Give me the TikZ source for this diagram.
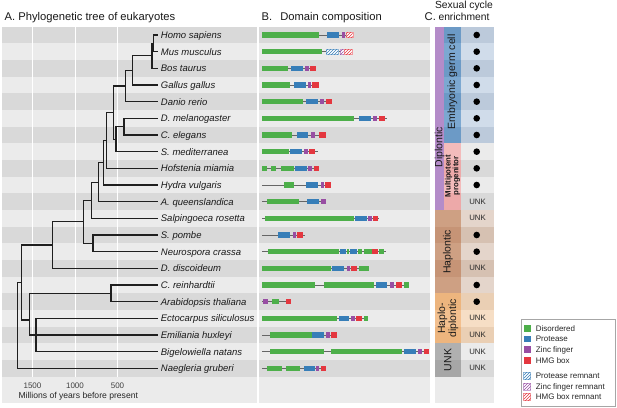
\documentclass[tikz,border=0pt]{standalone}
\usepackage{fontspec}
\setmainfont{Liberation Sans}
\usetikzlibrary{patterns}

\definecolor{bandD}{HTML}{D9D9D9}
\definecolor{bandL}{HTML}{EBEBEB}
\definecolor{cdis}{HTML}{4DAF4A}
\definecolor{cpro}{HTML}{377EB8}
\definecolor{cznf}{HTML}{984EA3}
\definecolor{chmg}{HTML}{E4373F}
\definecolor{cdip}{HTML}{B48CC9}
\definecolor{egcD}{HTML}{6C9AC6}
\definecolor{egcL}{HTML}{7CA8D1}
\definecolor{mppD}{HTML}{EDA9A9}
\definecolor{mppL}{HTML}{F3BBBB}
\definecolor{hapD}{HTML}{C69476}
\definecolor{hapL}{HTML}{CEA083}
\definecolor{hdD}{HTML}{EDB57E}
\definecolor{hdL}{HTML}{F3C08F}
\definecolor{unkD}{HTML}{A6A6A6}
\definecolor{unkL}{HTML}{B0B0B0}
\definecolor{egcdD}{HTML}{BCCADB}
\definecolor{egcdL}{HTML}{D0DCEA}
\definecolor{hapdD}{HTML}{D6C1B2}
\definecolor{hapdL}{HTML}{E4D5CB}
\definecolor{hddD}{HTML}{EACFB4}
\definecolor{hddL}{HTML}{F6DEC5}

\tikzset{
  dis/.style={fill=cdis},
  pro/.style={fill=cpro},
  znf/.style={fill=cznf},
  hmg/.style={fill=chmg},
  proR/.style={fill=white, draw=cpro!50, line width=0.3pt, postaction={pattern=north east lines, pattern color=cpro}},
  znfR/.style={fill=white, draw=cznf!50, line width=0.3pt, postaction={pattern=north east lines, pattern color=cznf}},
  hmgR/.style={fill=white, draw=chmg!50, line width=0.3pt, postaction={pattern=north east lines, pattern color=chmg}},
  backbone/.style={draw=black!60, line width=0.9pt},
  branch/.style={draw=black!88, line width=1.25pt},
  gridline/.style={draw=white, line width=0.9pt},
  species/.style={anchor=base west, inner sep=0pt, text=black!90, font=\fontsize{9.5}{11}\selectfont\itshape},
  title/.style={anchor=base west, inner sep=0pt, text=black!90, font=\fontsize{11.2}{13}\selectfont},
  tick/.style={anchor=base, inner sep=0pt, text=black!75, font=\fontsize{8}{9.6}\selectfont},
  strip/.style={rotate=90, inner sep=0pt, text=black!90, align=center, font=\fontsize{10.5}{11}\selectfont},
  mpp/.style={rotate=90, inner sep=0pt, text=black!90, align=center, font=\fontsize{7.8}{7.6}\selectfont\bfseries},
  dot/.style={circle, fill=black, inner sep=0pt, minimum size=6.6pt},
  unk/.style={inner sep=0pt, text=black!85, font=\fontsize{7.8}{9}\selectfont},
  legtext/.style={anchor=base west, inner sep=0pt, text=black!85, font=\fontsize{8}{9.6}\selectfont}
}

\newcommand{\cband}[6]{%
  \foreach \i in {#3,...,#4}{%
    \ifodd\i \def\bc{#6}\else \def\bc{#5}\fi
    \fill[fill=\bc] (#1,{26.67+\i*50/3}) rectangle (#2,{26.67+(\i+1)*50/3});
  }%
}

\newcommand{\protein}[3]{%
  \draw[backbone] (262.3,{35+#1*50/3}) -- (#2,{35+#1*50/3});
  \foreach \t/\a/\b in {#3}
    \fill[\t] (\a,{35+#1*50/3-2.6}) rectangle (\b,{35+#1*50/3+2.6});
}

\begin{document}
\begin{tikzpicture}[x=1pt,y=-1pt]
    \useasboundingbox (0,0) rectangle (617,407);
    \fill[white] (0,0) rectangle (617,407);

    \fill[bandL] (2,376.67) rectangle (256.5,403);
    \fill[bandL] (259,376.67) rectangle (430,403);
    \fill[bandL] (435,376.67) rectangle (494,403);
    \cband{2}{256.5}{0}{20}{bandD}{bandL}
    \cband{259}{430}{0}{20}{bandD}{bandL}
    \foreach \x in {32.5,75,117.5}
        \draw[gridline] (\x,26.67) -- (\x,376.67);

    \fill[cdip] (435,26.67) rectangle (444,210);
    \cband{444}{460.7}{0}{6}{egcD}{egcL}
    \cband{444}{460.7}{7}{10}{mppD}{mppL}
    \cband{435}{460.7}{11}{15}{hapD}{hapL}
    \cband{435}{460.7}{16}{18}{hdD}{hdL}
    \cband{435}{460.7}{19}{20}{unkD}{unkL}
    \cband{460.7}{494}{0}{6}{egcdD}{egcdL}
    \cband{460.7}{494}{7}{10}{bandD}{bandL}
    \cband{460.7}{494}{11}{15}{hapdD}{hapdL}
    \cband{460.7}{494}{16}{18}{hddD}{hddL}
    \cband{460.7}{494}{19}{20}{bandD}{bandL}

    \node[title] (titleA) at (4.5,20.7) {A. Phylogenetic tree of eukaryotes};
    \node[title] (titleB) at (261.5,20.7) {B.\hspace{8pt}Domain composition};
    \node[title] (titleC) at (424.5,20.7) {C.};
    \node[anchor=base, inner sep=0pt, text=black!90, font=\fontsize{10.3}{12}\selectfont] (cyc1) at (464,8.5) {Sexual cycle};
    \node[anchor=base, inner sep=0pt, text=black!90, font=\fontsize{10.3}{12}\selectfont] (cyc2) at (464,20.7) {enrichment};

    \foreach \i/\n/\lab in {0/homo/Homo sapiens, 1/mus/Mus musculus, 2/bos/Bos taurus,
        3/gallus/Gallus gallus, 4/danio/Danio rerio, 5/dmel/D. melanogaster,
        6/cel/C. elegans, 7/smed/S. mediterranea, 8/hofs/Hofstenia miamia,
        9/hydra/Hydra vulgaris, 10/aque/A. queenslandica, 11/salp/Salpingoeca rosetta,
        12/spom/S. pombe, 13/ncra/Neurospora crassa, 14/ddis/D. discoideum,
        15/crei/C. reinhardtii, 16/atha/Arabidopsis thaliana, 17/esil/Ectocarpus siliculosus,
        18/ehux/Emiliania huxleyi, 19/bnat/Bigelowiella natans, 20/ngru/Naegleria gruberi}
    {
        \node[species] (\n) at (160.7,{35+\i*50/3+3.4}) {\lab};
        \coordinate (\n-tip) at (158,{35+\i*50/3});
    }

    \coordinate (hm) at (153.8,43.33);
    \coordinate (hmb) at (152,55.83);
    \coordinate (amn) at (132.5,70.42);
    \coordinate (vert) at (125.5,86.04);
    \coordinate (dc) at (124,126.67);
    \coordinate (prot) at (116,139.17);
    \coordinate (bil) at (113.3,112.6);
    \coordinate (hofn) at (106.7,140.5);
    \coordinate (hydn) at (103.3,162.7);
    \coordinate (aqn) at (98.3,182.2);
    \coordinate (hol) at (91.5,200.3);
    \coordinate (fun) at (93,243.3);
    \coordinate (opi) at (83.3,221.8);
    \coordinate (amo) at (52.5,245.1);
    \coordinate (cra) at (111,293.3);
    \coordinate (sar) at (36,335);
    \coordinate (dia) at (29.3,320);
    \coordinate (ad) at (21.7,282.6);
    \coordinate (root) at (17.3,325.5);

    \draw[branch] (hm) |- (homo-tip);
    \draw[branch] (hm) |- (mus-tip);
    \draw[branch] (hmb) |- (hm);
    \draw[branch] (hmb) |- (bos-tip);
    \draw[branch] (amn) |- (hmb);
    \draw[branch] (amn) |- (gallus-tip);
    \draw[branch] (vert) |- (amn);
    \draw[branch] (vert) |- (danio-tip);
    \draw[branch] (dc) |- (dmel-tip);
    \draw[branch] (dc) |- (cel-tip);
    \draw[branch] (prot) |- (dc);
    \draw[branch] (prot) |- (smed-tip);
    \draw[branch] (bil) |- (vert);
    \draw[branch] (bil) |- (prot);
    \draw[branch] (hofn) |- (bil);
    \draw[branch] (hofn) |- (hofs-tip);
    \draw[branch] (hydn) |- (hofn);
    \draw[branch] (hydn) |- (hydra-tip);
    \draw[branch] (aqn) |- (hydn);
    \draw[branch] (aqn) |- (aque-tip);
    \draw[branch] (hol) |- (aqn);
    \draw[branch] (hol) |- (salp-tip);
    \draw[branch] (fun) |- (spom-tip);
    \draw[branch] (fun) |- (ncra-tip);
    \draw[branch] (opi) |- (hol);
    \draw[branch] (opi) |- (fun);
    \draw[branch] (amo) |- (opi);
    \draw[branch] (amo) |- (ddis-tip);
    \draw[branch] (cra) |- (crei-tip);
    \draw[branch] (cra) |- (atha-tip);
    \draw[branch] (sar) |- (esil-tip);
    \draw[branch] (sar) |- (ehux-tip);
    \draw[branch] (sar) |- (bnat-tip);
    \draw[branch] (dia) |- (cra);
    \draw[branch] (dia) |- (sar);
    \draw[branch] (ad) |- (amo);
    \draw[branch] (ad) |- (dia);
    \draw[branch] (root) |- (ad);
    \draw[branch] (root) |- (ngru-tip);

    \node[tick] (t1500) at (32.5,388.7) {1500};
    \node[tick] (t1000) at (75,388.7) {1000};
    \node[tick] (t500) at (117.5,388.7) {500};
    \node[anchor=base west, inner sep=0pt, text=black!85, font=\fontsize{8.6}{10}\selectfont] (xlab) at (18.3,398.8) {Millions of years before present};

    \protein{0}{352.7}{dis/262.3/319, pro/327.3/339, znf/341.7/345, hmgR/346/352.7}
    \protein{1}{351.7}{dis/262.3/321.7, proR/326/338.3, znfR/340/343.7, hmgR/344.3/351.7}
    \protein{2}{316.3}{dis/262.3/288.3, pro/290.7/303.3, znf/305/309, hmg/310/316.3}
    \protein{3}{319}{dis/262.3/290, pro/293.7/305.7, znf/307.7/311, hmg/312.3/319}
    \protein{4}{331.7}{dis/262.3/303.3, pro/305.7/318.3, znf/320.3/323.7, hmg/325.7/331.7}
    \protein{5}{387}{dis/262.3/353.7, pro/359/371, znf/373/376.7, hmg/379.3/385.3}
    \protein{6}{325.7}{dis/262.3/291.7, pro/296.7/308.3, znf/311/315, hmg/319.3/325.7}
    \protein{7}{317.7}{dis/262.3/289, pro/290/301.7, znf/304.3/307.7, hmg/309.3/315}
    \protein{8}{319.3}{dis/262.3/267.3, dis/271/276.3, dis/281/294, pro/295/306.7, znf/308.3/312.3, hmg/313.7/319.3}
    \protein{9}{331.3}{dis/284.3/293.7, pro/306/318, znf/320.7/324.3, hmg/325.3/331.3}
    \protein{10}{325.7}{dis/267.3/298.7, pro/306.7/318.7, znf/321/325.7}
    \protein{11}{379}{dis/265/353.7, pro/355/367, znf/368/372.3, hmg/373/378.3}
    \protein{12}{305.3}{pro/278.3/290.3, znf/292.7/296.3, hmg/297.3/303.3}
    \protein{13}{386}{dis/268.3/339, pro/340/346, dis/347.3/348.7, pro/350.3/357, dis/358/361.7, dis/364.3/371.7, hmg/372.3/378, dis/378.7/384.3}
    \protein{14}{369}{dis/262.3/331, pro/332.3/344.3, znf/346.7/350, hmg/351/357.3, dis/359.3/369}
    \protein{15}{409}{dis/262.3/315, dis/324/374, pro/375.7/387.3, znf/389.7/393.7, hmg/396.3/402.3, dis/403.7/409}
    \protein{16}{290.7}{znf/263/268.3, dis/271.7/279, hmg/285.7/290.7}
    \protein{17}{368}{dis/262.3/337.3, pro/339/349.3, znf/350.7/354.7, hmg/356/362, dis/364/368}
    \protein{18}{337}{dis/270/311.7, pro/312/323.7, znf/326/330, hmg/331/337}
    \protein{19}{429}{dis/270/323.7, dis/331.3/402.3, pro/404/416, znf/418.3/422, hmg/423.7/429}
    \protein{20}{326.3}{dis/267.3/281.7, dis/286/300.3, pro/303.7/314.7, znf/315.7/319, hmg/320.7/326.3}

    \node[strip] (egc) at (452.3,82) {Embryonic germ cell};
    \node[strip] (dip) at (439.7,147) {Diplontic};
    \node[mpp] (mpg) at (452.5,176) {Multipotent\\progenitor};
    \node[strip] (hap) at (447.8,251.7) {Haplontic};
    \node[strip] (hdip) at (447.8,318.3) {Haplo-\\diplontic};
    \node[strip] (unkg) at (447.8,360) {UNK};

    \foreach \i/\e in {0/1,1/1,2/1,3/1,4/1,5/1,6/1,7/1,8/1,9/1,10/0,
        11/0,12/1,13/1,14/0,15/1,16/1,17/0,18/0,19/0,20/0}
    {
        \ifnum\e=1
            \node[dot] (enr\i) at (476.7,{35+\i*50/3}) {};
        \else
            \node[unk] (enr\i) at (477.5,{35+\i*50/3}) {UNK};
        \fi
    }

    \draw[black!35, line width=0.5pt] (521.5,319) rectangle (615,406);
    \foreach \t/\y/\lab in {dis/328.3/Disordered, pro/339/Protease, znf/349.8/Zinc finger,
        hmg/360.5/HMG box, proR/376/Protease remnant, znfR/386.5/Zinc finger remnant,
        hmgR/397/HMG box remnant}
    {
        \fill[\t] (523.5,\y-3.4) rectangle (530.5,\y+3.4);
        \node[legtext] (leg-\t) at (535.7,\y+2.9) {\lab};
    }
\end{tikzpicture}
\end{document}
